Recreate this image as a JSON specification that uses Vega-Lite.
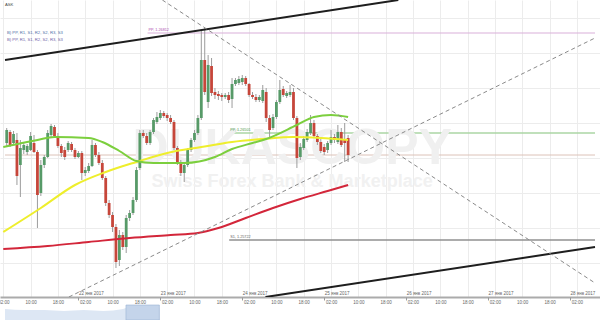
{
"$schema": "https://vega.github.io/schema/vega-lite/v6.json",
"width": 600, "height": 297,
"autosize": {"type": "none"},
"padding": {"left": 0, "top": 0, "right": 0, "bottom": 23},
"background": "white",
"config": {"view": {"stroke": null}, "font": "Liberation Sans"},
"datasets": {
"candles": [
{"t":"2017-01-21T03:00","o":1.26571,"h":1.26616,"l":1.26562,"c":1.26610},
{"t":"2017-01-21T04:00","o":1.26604,"h":1.26610,"l":1.26559,"c":1.26565},
{"t":"2017-01-21T05:00","o":1.26571,"h":1.26607,"l":1.26565,"c":1.26598},
{"t":"2017-01-21T06:00","o":1.26580,"h":1.26601,"l":1.26445,"c":1.26472},
{"t":"2017-01-21T07:00","o":1.26505,"h":1.26580,"l":1.26409,"c":1.26556},
{"t":"2017-01-21T08:00","o":1.26550,"h":1.26574,"l":1.26538,"c":1.26565},
{"t":"2017-01-21T09:00","o":1.26544,"h":1.26568,"l":1.26535,"c":1.26562},
{"t":"2017-01-21T10:00","o":1.26550,"h":1.26604,"l":1.26547,"c":1.26592},
{"t":"2017-01-21T11:00","o":1.26571,"h":1.26595,"l":1.26541,"c":1.26544},
{"t":"2017-01-21T12:00","o":1.26544,"h":1.26550,"l":1.26316,"c":1.26415},
{"t":"2017-01-21T13:00","o":1.26421,"h":1.26520,"l":1.26412,"c":1.26505},
{"t":"2017-01-21T14:00","o":1.26505,"h":1.26535,"l":1.26496,"c":1.26529},
{"t":"2017-01-21T15:00","o":1.26529,"h":1.26610,"l":1.26526,"c":1.26601},
{"t":"2017-01-21T16:00","o":1.26595,"h":1.26628,"l":1.26589,"c":1.26622},
{"t":"2017-01-21T17:00","o":1.26619,"h":1.26625,"l":1.26586,"c":1.26592},
{"t":"2017-01-21T18:00","o":1.26592,"h":1.26601,"l":1.26556,"c":1.26562},
{"t":"2017-01-21T19:00","o":1.26562,"h":1.26568,"l":1.26529,"c":1.26541},
{"t":"2017-01-21T20:00","o":1.26550,"h":1.26559,"l":1.26520,"c":1.26529},
{"t":"2017-01-21T21:00","o":1.26550,"h":1.26577,"l":1.26544,"c":1.26571},
{"t":"2017-01-21T22:00","o":1.26568,"h":1.26574,"l":1.26544,"c":1.26550},
{"t":"2017-01-21T23:00","o":1.26550,"h":1.26556,"l":1.26523,"c":1.26529},
{"t":"2017-01-22T00:00","o":1.26529,"h":1.26547,"l":1.26526,"c":1.26541},
{"t":"2017-01-22T01:00","o":1.26541,"h":1.26547,"l":1.26460,"c":1.26481},
{"t":"2017-01-22T02:00","o":1.26481,"h":1.26499,"l":1.26472,"c":1.26490},
{"t":"2017-01-22T03:00","o":1.26487,"h":1.26511,"l":1.26481,"c":1.26502},
{"t":"2017-01-22T04:00","o":1.26502,"h":1.26580,"l":1.26499,"c":1.26565},
{"t":"2017-01-22T05:00","o":1.26565,"h":1.26571,"l":1.26529,"c":1.26535},
{"t":"2017-01-22T06:00","o":1.26535,"h":1.26544,"l":1.26505,"c":1.26511},
{"t":"2017-01-22T07:00","o":1.26511,"h":1.26520,"l":1.26460,"c":1.26466},
{"t":"2017-01-22T08:00","o":1.26466,"h":1.26472,"l":1.26382,"c":1.26391},
{"t":"2017-01-22T09:00","o":1.26391,"h":1.26400,"l":1.26346,"c":1.26355},
{"t":"2017-01-22T10:00","o":1.26355,"h":1.26364,"l":1.26304,"c":1.26319},
{"t":"2017-01-22T11:00","o":1.26319,"h":1.26328,"l":1.26196,"c":1.26214},
{"t":"2017-01-22T12:00","o":1.26220,"h":1.26310,"l":1.26202,"c":1.26295},
{"t":"2017-01-22T13:00","o":1.26295,"h":1.26304,"l":1.26250,"c":1.26259},
{"t":"2017-01-22T14:00","o":1.26259,"h":1.26355,"l":1.26241,"c":1.26346},
{"t":"2017-01-22T15:00","o":1.26346,"h":1.26370,"l":1.26337,"c":1.26361},
{"t":"2017-01-22T16:00","o":1.26361,"h":1.26409,"l":1.26355,"c":1.26400},
{"t":"2017-01-22T17:00","o":1.26400,"h":1.26499,"l":1.26394,"c":1.26490},
{"t":"2017-01-22T18:00","o":1.26496,"h":1.26610,"l":1.26490,"c":1.26601},
{"t":"2017-01-22T19:00","o":1.26601,"h":1.26610,"l":1.26586,"c":1.26592},
{"t":"2017-01-22T20:00","o":1.26592,"h":1.26601,"l":1.26565,"c":1.26571},
{"t":"2017-01-22T21:00","o":1.26571,"h":1.26610,"l":1.26565,"c":1.26604},
{"t":"2017-01-22T22:00","o":1.26604,"h":1.26646,"l":1.26598,"c":1.26640},
{"t":"2017-01-22T23:00","o":1.26634,"h":1.26664,"l":1.26628,"c":1.26649},
{"t":"2017-01-23T00:00","o":1.26646,"h":1.26670,"l":1.26640,"c":1.26661},
{"t":"2017-01-23T01:00","o":1.26661,"h":1.26667,"l":1.26646,"c":1.26652},
{"t":"2017-01-23T02:00","o":1.26655,"h":1.26661,"l":1.26637,"c":1.26646},
{"t":"2017-01-23T03:00","o":1.26646,"h":1.26655,"l":1.26628,"c":1.26634},
{"t":"2017-01-23T04:00","o":1.26634,"h":1.26640,"l":1.26550,"c":1.26556},
{"t":"2017-01-23T05:00","o":1.26556,"h":1.26562,"l":1.26505,"c":1.26514},
{"t":"2017-01-23T06:00","o":1.26514,"h":1.26520,"l":1.26472,"c":1.26481},
{"t":"2017-01-23T07:00","o":1.26481,"h":1.26511,"l":1.26454,"c":1.26505},
{"t":"2017-01-23T08:00","o":1.26505,"h":1.26556,"l":1.26499,"c":1.26550},
{"t":"2017-01-23T09:00","o":1.26550,"h":1.26586,"l":1.26544,"c":1.26580},
{"t":"2017-01-23T10:00","o":1.26580,"h":1.26610,"l":1.26574,"c":1.26601},
{"t":"2017-01-23T11:00","o":1.26601,"h":1.26655,"l":1.26595,"c":1.26646},
{"t":"2017-01-23T12:00","o":1.26646,"h":1.26910,"l":1.26640,"c":1.26820},
{"t":"2017-01-23T13:00","o":1.26820,"h":1.26916,"l":1.26715,"c":1.26724},
{"t":"2017-01-23T14:00","o":1.26694,"h":1.26835,"l":1.26676,"c":1.26805},
{"t":"2017-01-23T15:00","o":1.26802,"h":1.26826,"l":1.26712,"c":1.26721},
{"t":"2017-01-23T16:00","o":1.26724,"h":1.26736,"l":1.26703,"c":1.26715},
{"t":"2017-01-23T17:00","o":1.26718,"h":1.26727,"l":1.26700,"c":1.26712},
{"t":"2017-01-23T18:00","o":1.26715,"h":1.26721,"l":1.26697,"c":1.26709},
{"t":"2017-01-23T19:00","o":1.26709,"h":1.26721,"l":1.26703,"c":1.26715},
{"t":"2017-01-23T20:00","o":1.26715,"h":1.26724,"l":1.26691,"c":1.26700},
{"t":"2017-01-23T21:00","o":1.26703,"h":1.26766,"l":1.26676,"c":1.26748},
{"t":"2017-01-23T22:00","o":1.26748,"h":1.26766,"l":1.26742,"c":1.26760},
{"t":"2017-01-23T23:00","o":1.26751,"h":1.26772,"l":1.26745,"c":1.26763},
{"t":"2017-01-24T00:00","o":1.26754,"h":1.26775,"l":1.26745,"c":1.26766},
{"t":"2017-01-24T01:00","o":1.26766,"h":1.26772,"l":1.26742,"c":1.26748},
{"t":"2017-01-24T02:00","o":1.26748,"h":1.26751,"l":1.26709,"c":1.26715},
{"t":"2017-01-24T03:00","o":1.26715,"h":1.26724,"l":1.26703,"c":1.26709},
{"t":"2017-01-24T04:00","o":1.26709,"h":1.26718,"l":1.26694,"c":1.26700},
{"t":"2017-01-24T05:00","o":1.26700,"h":1.26715,"l":1.26694,"c":1.26709},
{"t":"2017-01-24T06:00","o":1.26697,"h":1.26745,"l":1.26691,"c":1.26730},
{"t":"2017-01-24T07:00","o":1.26724,"h":1.26736,"l":1.26634,"c":1.26646},
{"t":"2017-01-24T08:00","o":1.26646,"h":1.26655,"l":1.26589,"c":1.26610},
{"t":"2017-01-24T09:00","o":1.26616,"h":1.26658,"l":1.26610,"c":1.26649},
{"t":"2017-01-24T10:00","o":1.26649,"h":1.26700,"l":1.26643,"c":1.26694},
{"t":"2017-01-24T11:00","o":1.26694,"h":1.26760,"l":1.26688,"c":1.26730},
{"t":"2017-01-24T12:00","o":1.26733,"h":1.26742,"l":1.26709,"c":1.26715},
{"t":"2017-01-24T13:00","o":1.26712,"h":1.26727,"l":1.26706,"c":1.26721},
{"t":"2017-01-24T14:00","o":1.26715,"h":1.26745,"l":1.26709,"c":1.26724},
{"t":"2017-01-24T15:00","o":1.26724,"h":1.26736,"l":1.26640,"c":1.26646},
{"t":"2017-01-24T16:00","o":1.26646,"h":1.26652,"l":1.26496,"c":1.26526},
{"t":"2017-01-24T17:00","o":1.26529,"h":1.26571,"l":1.26520,"c":1.26559},
{"t":"2017-01-24T18:00","o":1.26556,"h":1.26592,"l":1.26550,"c":1.26583},
{"t":"2017-01-24T19:00","o":1.26580,"h":1.26613,"l":1.26574,"c":1.26604},
{"t":"2017-01-24T20:00","o":1.26601,"h":1.26655,"l":1.26595,"c":1.26631},
{"t":"2017-01-24T21:00","o":1.26631,"h":1.26640,"l":1.26586,"c":1.26592},
{"t":"2017-01-24T22:00","o":1.26592,"h":1.26598,"l":1.26565,"c":1.26574},
{"t":"2017-01-24T23:00","o":1.26574,"h":1.26583,"l":1.26541,"c":1.26547},
{"t":"2017-01-25T00:00","o":1.26559,"h":1.26568,"l":1.26535,"c":1.26544},
{"t":"2017-01-25T01:00","o":1.26550,"h":1.26577,"l":1.26541,"c":1.26571},
{"t":"2017-01-25T02:00","o":1.26571,"h":1.26610,"l":1.26565,"c":1.26589},
{"t":"2017-01-25T03:00","o":1.26589,"h":1.26598,"l":1.26571,"c":1.26580},
{"t":"2017-01-25T04:00","o":1.26574,"h":1.26625,"l":1.26568,"c":1.26604},
{"t":"2017-01-25T05:00","o":1.26604,"h":1.26616,"l":1.26559,"c":1.26565},
{"t":"2017-01-25T06:00","o":1.26580,"h":1.26631,"l":1.26514,"c":1.26571},
{"t":"2017-01-25T07:00","o":1.26586,"h":1.26595,"l":1.26514,"c":1.26535}
],
"ma": [
{"s":"ma200","t":"2017-01-21T02:00","v":1.26253},
{"s":"ma200","t":"2017-01-21T15:00","v":1.26262},
{"s":"ma200","t":"2017-01-22T03:00","v":1.26274},
{"s":"ma200","t":"2017-01-22T15:00","v":1.26286},
{"s":"ma200","t":"2017-01-23T03:00","v":1.26295},
{"s":"ma200","t":"2017-01-23T11:00","v":1.26301},
{"s":"ma200","t":"2017-01-23T17:00","v":1.26316},
{"s":"ma200","t":"2017-01-24T01:00","v":1.26346},
{"s":"ma200","t":"2017-01-24T09:00","v":1.26376},
{"s":"ma200","t":"2017-01-24T17:00","v":1.26403},
{"s":"ma200","t":"2017-01-25T01:00","v":1.26427},
{"s":"ma200","t":"2017-01-25T07:00","v":1.26445},
{"s":"ma100","t":"2017-01-21T02:00","v":1.26304},
{"s":"ma100","t":"2017-01-21T13:00","v":1.26376},
{"s":"ma100","t":"2017-01-21T23:00","v":1.26445},
{"s":"ma100","t":"2017-01-22T08:00","v":1.26484},
{"s":"ma100","t":"2017-01-22T17:00","v":1.26514},
{"s":"ma100","t":"2017-01-23T02:00","v":1.26541},
{"s":"ma100","t":"2017-01-23T12:00","v":1.26559},
{"s":"ma100","t":"2017-01-23T21:00","v":1.26574},
{"s":"ma100","t":"2017-01-24T06:00","v":1.26583},
{"s":"ma100","t":"2017-01-24T15:00","v":1.26589},
{"s":"ma100","t":"2017-01-24T23:00","v":1.26586},
{"s":"ma100","t":"2017-01-25T07:00","v":1.26580},
{"s":"ma50","t":"2017-01-21T02:00","v":1.26559},
{"s":"ma50","t":"2017-01-21T12:00","v":1.26580},
{"s":"ma50","t":"2017-01-21T17:00","v":1.26589},
{"s":"ma50","t":"2017-01-22T03:00","v":1.26586},
{"s":"ma50","t":"2017-01-22T07:00","v":1.26574},
{"s":"ma50","t":"2017-01-22T12:00","v":1.26547},
{"s":"ma50","t":"2017-01-22T17:00","v":1.26517},
{"s":"ma50","t":"2017-01-22T22:00","v":1.26511},
{"s":"ma50","t":"2017-01-23T07:00","v":1.26511},
{"s":"ma50","t":"2017-01-23T16:00","v":1.26529},
{"s":"ma50","t":"2017-01-23T21:00","v":1.26553},
{"s":"ma50","t":"2017-01-24T03:00","v":1.26571},
{"s":"ma50","t":"2017-01-24T07:00","v":1.26583},
{"s":"ma50","t":"2017-01-24T16:00","v":1.26625},
{"s":"ma50","t":"2017-01-24T21:00","v":1.26649},
{"s":"ma50","t":"2017-01-25T02:00","v":1.26655},
{"s":"ma50","t":"2017-01-25T07:00","v":1.26649}
],
"pivots": [
{"id":"brown","t1":"2017-01-21T02:30","t2":"2017-01-28T07:19","v":1.26535},
{"id":"pp_d","t1":"2017-01-22T20:16","t2":"2017-01-28T07:19","v":1.26901},
{"id":"pp_w","t1":"2017-01-23T20:10","t2":"2017-01-28T07:19","v":1.26601},
{"id":"s1","t1":"2017-01-23T20:10","t2":"2017-01-28T07:19","v":1.26280}
],
"pivotLabels": [
{"id":"pp_d","label":"PP, 1.26812","t":"2017-01-22T20:33","v":1.26901},
{"id":"pp_w","label":"PP, 1.26501","t":"2017-01-23T20:28","v":1.26601},
{"id":"s1","label":"S1, 1.25722","t":"2017-01-23T20:28","v":1.26280}
],
"trend": [
{"id":"ch_top","kind":"channel","t":"2017-01-21T02:30","v":1.26820},
{"id":"ch_top","kind":"channel","t":"2017-01-25T21:42","v":1.27000},
{"id":"ch_bot","kind":"channel","t":"2017-01-24T06:48","v":1.26109},
{"id":"ch_bot","kind":"channel","t":"2017-01-28T07:19","v":1.26259},
{"id":"wedge_hi","kind":"wedge","t":"2017-01-23T00:35","v":1.27000},
{"id":"wedge_hi","kind":"wedge","t":"2017-01-28T07:19","v":1.26151},
{"id":"wedge_lo","kind":"wedge","t":"2017-01-21T21:13","v":1.26109},
{"id":"wedge_lo","kind":"wedge","t":"2017-01-28T07:19","v":1.26886}
],
"header": [
{"id":"ask","label":"ASK","t":"2017-01-21T02:30","v":1.26985},
{"id":"d","label":"B) PP, R1, S1, R2, S2, R3, S3","t":"2017-01-21T03:05","v":1.26901},
{"id":"w","label":"B) PP, R1, S1, R2, S2, R3, S3","t":"2017-01-21T03:05","v":1.26880}
],
"nav": [
{"t":"2017-01-21T02:30","v":1.26073},
{"t":"2017-01-21T08:16","v":1.26070},
{"t":"2017-01-21T14:01","v":1.26070},
{"t":"2017-01-21T19:47","v":1.26067},
{"t":"2017-01-22T01:32","v":1.26070},
{"t":"2017-01-22T07:18","v":1.26067},
{"t":"2017-01-22T13:04","v":1.26073},
{"t":"2017-01-22T13:56","v":1.26076},
{"t":"2017-01-22T17:23","v":1.26070},
{"t":"2017-01-22T20:16","v":1.26073},
{"t":"2017-01-22T23:43","v":1.26076}
],
"navWindow": [
{"t1":"2017-01-22T13:56","t2":"2017-01-22T23:43","v1":1.2604,"v2":1.26085}
]
},
"resolve": {"axis": {"x": "independent"}, "scale": {"color": "independent", "strokeWidth": "independent", "strokeDash": "independent"}},
"layer": [
{
"data": {"name": "pivots"},
"mark": {"type": "rule"},
"encoding": {
"x": {"field": "t1", "type": "temporal",
"scale": {"domain": [{"year":2017,"month":1,"date":21,"hours":2,"minutes":30},{"year":2017,"month":1,"date":28,"hours":7,"minutes":19}]},
"axis": {"title": null, "format": "%H:%M", "grid": true, "gridColor": "#ececec", "gridWidth": 1,
"tickSize": 0, "labelFontSize": 4.5, "labelColor": "#666666", "labelPadding": 2.5,
"labelFlush": false, "labelOverlap": false, "domainColor": "#ababab", "domainWidth": 2,
"values": [
{"year":2017,"month":1,"date":21,"hours":2},{"year":2017,"month":1,"date":21,"hours":10},{"year":2017,"month":1,"date":21,"hours":18},
{"year":2017,"month":1,"date":22,"hours":2},{"year":2017,"month":1,"date":22,"hours":10},{"year":2017,"month":1,"date":22,"hours":18},
{"year":2017,"month":1,"date":23,"hours":2},{"year":2017,"month":1,"date":23,"hours":10},{"year":2017,"month":1,"date":23,"hours":18},
{"year":2017,"month":1,"date":24,"hours":2},{"year":2017,"month":1,"date":24,"hours":10},{"year":2017,"month":1,"date":24,"hours":18},
{"year":2017,"month":1,"date":25,"hours":2},{"year":2017,"month":1,"date":25,"hours":10},{"year":2017,"month":1,"date":25,"hours":18},
{"year":2017,"month":1,"date":26,"hours":2},{"year":2017,"month":1,"date":26,"hours":10},{"year":2017,"month":1,"date":26,"hours":18},
{"year":2017,"month":1,"date":27,"hours":2},{"year":2017,"month":1,"date":27,"hours":10},{"year":2017,"month":1,"date":27,"hours":18},
{"year":2017,"month":1,"date":28,"hours":2}]}},
"x2": {"field": "t2"},
"y": {"field": "v", "type": "quantitative",
"scale": {"domain": [1.26109, 1.27], "zero": false, "nice": false},
"axis": {"title": null, "grid": true, "gridColor": "#ececec", "labels": false, "ticks": false, "domain": false,
"values": [1.26946, 1.26841, 1.26736, 1.26631, 1.26526, 1.26421, 1.26316, 1.26211]}},
"color": {"field": "id", "type": "nominal", "legend": null,
"scale": {"domain": ["brown", "pp_d", "pp_w", "s1"], "range": ["#dcc2b8", "#d9afd9", "#abd6a4", "#909090"]}},
"strokeWidth": {"field": "id", "type": "nominal", "legend": null,
"scale": {"domain": ["brown", "pp_d", "pp_w", "s1"], "range": [1, 1.5, 2, 1.5]}}
}
},
{
"data": {"values": [{"label": "DUKASCOPY", "t": "2017-01-24T14:36", "v": 1.26553}]},
"mark": {"type": "text", "fontSize": 50, "fontWeight": "bold", "color": "#f0f0f0", "align": "center", "baseline": "middle"},
"encoding": {
"x": {"field": "t", "type": "temporal", "axis": null},
"y": {"field": "v", "type": "quantitative"},
"text": {"field": "label"}
}
},
{
"data": {"values": [{"label": "Swiss Forex Bank & Marketplace", "t": "2017-01-24T14:36", "v": 1.26454}]},
"mark": {"type": "text", "fontSize": 18, "fontWeight": "bold", "color": "#f1f1f1", "align": "center", "baseline": "middle"},
"encoding": {
"x": {"field": "t", "type": "temporal", "axis": null},
"y": {"field": "v", "type": "quantitative"},
"text": {"field": "label"}
}
},
{
"data": {"name": "candles"},
"mark": {"type": "rule", "color": "#9c9c9c", "strokeWidth": 1},
"encoding": {
"x": {"field": "t", "type": "temporal", "axis": null},
"y": {"field": "l", "type": "quantitative"},
"y2": {"field": "h"}
}
},
{
"data": {"name": "candles"},
"mark": {"type": "bar", "size": 2.8},
"encoding": {
"x": {"field": "t", "type": "temporal", "axis": null},
"y": {"field": "o", "type": "quantitative"},
"y2": {"field": "c"},
"color": {"condition": {"test": "datum.c >= datum.o", "value": "#579a68"}, "value": "#c6463a"}
}
},
{
"data": {"name": "ma"},
"mark": {"type": "line", "strokeWidth": 2, "interpolate": "monotone", "clip": true},
"encoding": {
"x": {"field": "t", "type": "temporal", "axis": null},
"y": {"field": "v", "type": "quantitative"},
"color": {"field": "s", "type": "nominal", "legend": null,
"scale": {"domain": ["ma200", "ma100", "ma50"], "range": ["#d3263a", "#eeee2c", "#7ccf3e"]}}
}
},
{
"data": {"name": "trend"},
"transform": [{"filter": "datum.kind === 'channel'"}],
"mark": {"type": "line", "clip": true, "color": "#1e1e1e", "strokeWidth": 2},
"encoding": {
"x": {"field": "t", "type": "temporal", "axis": null},
"y": {"field": "v", "type": "quantitative"},
"detail": {"field": "id"}
}
},
{
"data": {"name": "trend"},
"transform": [{"filter": "datum.kind === 'wedge'"}],
"mark": {"type": "line", "clip": true, "color": "#8a8a8a", "strokeWidth": 1, "strokeDash": [4, 3]},
"encoding": {
"x": {"field": "t", "type": "temporal", "axis": null},
"y": {"field": "v", "type": "quantitative"},
"detail": {"field": "id"}
}
},
{
"data": {"name": "pivotLabels"},
"mark": {"type": "text", "fontSize": 3.8, "align": "left", "baseline": "bottom", "dy": -1},
"encoding": {
"x": {"field": "t", "type": "temporal", "axis": null},
"y": {"field": "v", "type": "quantitative"},
"text": {"field": "label"},
"color": {"field": "id", "type": "nominal", "legend": null,
"scale": {"domain": ["pp_d", "pp_w", "s1"], "range": ["#b04fb0", "#4e9a4e", "#666666"]}}
}
},
{
"data": {"name": "header"},
"mark": {"type": "text", "fontSize": 4.2, "align": "left", "baseline": "middle"},
"encoding": {
"x": {"field": "t", "type": "temporal", "axis": null},
"y": {"field": "v", "type": "quantitative"},
"text": {"field": "label"},
"color": {"field": "id", "type": "nominal", "legend": null,
"scale": {"domain": ["ask", "d", "w"], "range": ["#444444", "#4f6fa8", "#6f5fa8"]}}
}
},
{
"data": {"name": "nav"},
"mark": {"type": "area", "color": "#dde7f4", "interpolate": "monotone"},
"encoding": {
"x": {"field": "t", "type": "temporal",
"axis": {"title": null, "orient": "bottom", "grid": false, "domain": false, "tickSize": 3, "tickColor": "#9a9a9a",
"labelFontSize": 4.5, "labelColor": "#666666", "labelAlign": "left", "labelBaseline": "bottom", "labelPadding": -5, "labelDx": 1.5,
"labelFlush": false, "labelOverlap": false,
"labelExpr": "timeFormat(datum.value, '%d') + ' янв 2017'",
"values": [
{"year":2017,"month":1,"date":21},{"year":2017,"month":1,"date":22},{"year":2017,"month":1,"date":23},
{"year":2017,"month":1,"date":24},{"year":2017,"month":1,"date":25},{"year":2017,"month":1,"date":26},
{"year":2017,"month":1,"date":27},{"year":2017,"month":1,"date":28}]}},
"y": {"field": "v", "type": "quantitative"},
"y2": {"datum": 1.2604}
}
},
{
"data": {"name": "navWindow"},
"mark": {"type": "rect", "color": "#c4d4ea", "stroke": "#9bb2d4", "strokeWidth": 0.6},
"encoding": {
"x": {"field": "t1", "type": "temporal", "axis": null},
"x2": {"field": "t2"},
"y": {"field": "v1", "type": "quantitative"},
"y2": {"field": "v2"}
}
}
]
}
